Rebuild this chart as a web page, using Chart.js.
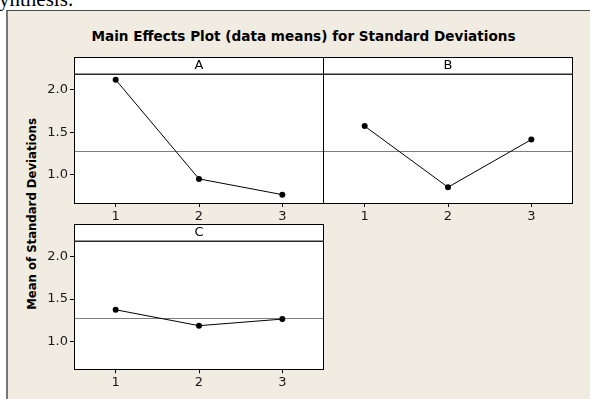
<!DOCTYPE html>
<html>
<head>
<meta charset="utf-8">
<script src="https://cdn.jsdelivr.net/npm/chart.js@4.4.1/dist/chart.umd.min.js"></script>
<style>
  html, body { margin:0; padding:0; background:#fff; }
  body { width:590px; height:399px; position:relative; overflow:hidden; }
  #doctext { position:absolute; left:-1px; top:-13px; font-family:"Liberation Serif","DejaVu Serif",serif; font-size:21px; color:#000; white-space:nowrap; }
  #frame { position:absolute; left:6px; top:10px; width:600px; height:420px; background:#F0ECE2; border-left:2px solid #767676; border-top:1px solid #4a4a4a; }
  #title { position:absolute; left:0; width:607px; top:28px; text-align:center; font-family:"DejaVu Sans",sans-serif; font-weight:bold; font-size:13.6px; color:#000; white-space:nowrap; }
  #ytitle { position:absolute; left:32px; top:214px; transform:translate(-50%,-50%) rotate(-90deg); font-family:"DejaVu Sans",sans-serif; font-weight:bold; font-size:11.7px; color:#000; white-space:nowrap; }
  canvas { position:absolute; }
</style>
</head>
<body>
<div id="doctext">ynthesis:</div>
<div id="frame"></div>
<div id="title">Main Effects Plot (data means) for Standard Deviations</div>
<div id="ytitle">Mean of Standard Deviations</div>
<canvas id="cA" width="330" height="180" style="left:0px;top:50px;width:330px;height:180px"></canvas>
<canvas id="cB" width="272" height="180" style="left:318px;top:50px;width:272px;height:180px"></canvas>
<canvas id="cC" width="330" height="180" style="left:0px;top:216px;width:330px;height:180px"></canvas>
<script>
// ---- data ----
const levels = ['1', '2', '3'];
const factorNames = ['A', 'B', 'C'];
const meansA = [2.118, 0.953, 0.768];
const meansB = [1.573, 0.855, 1.415];
const meansC = [1.373, 1.185, 1.263];
const yTickValues = [1.0, 1.5, 2.0];
const yMin = 0.67, yMax = 2.185;

const allMeans = meansA.concat(meansB, meansC);
const grandMean = allMeans.reduce((a, b) => a + b, 0) / allMeans.length;

Chart.defaults.font.family = '"DejaVu Sans", sans-serif';
Chart.defaults.font.size = 13;
Chart.defaults.color = '#1a1a1a';

const HEADER_H = 17;

const panelPlugin = {
  id: 'panel',
  beforeDraw(chart, args, opts) {
    const { ctx, chartArea: a } = chart;
    ctx.save();
    ctx.fillStyle = '#fff';
    ctx.fillRect(a.left, a.top - HEADER_H, a.right - a.left, a.bottom - a.top + HEADER_H);
    ctx.restore();
  },
  beforeDatasetsDraw(chart, args, opts) {
    const { ctx, chartArea: a } = chart;
    const y = Math.round(chart.scales.y.getPixelForValue(grandMean)) + 0.5;
    ctx.save();
    ctx.strokeStyle = '#7d7d7d';
    ctx.lineWidth = 1.2;
    ctx.beginPath();
    ctx.moveTo(a.left, y);
    ctx.lineTo(a.right, y);
    ctx.stroke();
    ctx.restore();
  },
  afterDatasetsDraw(chart, args, opts) {
    const { ctx, chartArea: a } = chart;
    const top = a.top - HEADER_H;
    ctx.save();
    ctx.strokeStyle = '#000';
    ctx.lineWidth = 1;
    ctx.strokeRect(Math.round(a.left) + 0.5, Math.round(top) + 0.5,
                   Math.round(a.right - a.left) - 1, Math.round(a.bottom - top));
    ctx.strokeStyle = '#2a2a2a';
    ctx.lineWidth = 1.6;
    ctx.beginPath();
    ctx.moveTo(a.left, Math.round(a.top) + 0.2);
    ctx.lineTo(a.right, Math.round(a.top) + 0.2);
    ctx.stroke();
    ctx.fillStyle = '#000';
    ctx.font = '13px "DejaVu Sans", sans-serif';
    ctx.textAlign = 'center';
    ctx.textBaseline = 'middle';
    ctx.fillText(opts.label, (a.left + a.right) / 2, top + HEADER_H / 2 + 0.5);
    ctx.restore();
  }
};

function makePanel(id, values, label, showY, pad, xH) {
  return new Chart(document.getElementById(id), {
    type: 'line',
    data: {
      labels: levels,
      datasets: [{
        data: values,
        borderColor: '#000',
        borderWidth: 1,
        backgroundColor: '#000',
        pointBackgroundColor: '#000',
        pointBorderColor: '#000',
        pointRadius: 3,
        pointBorderWidth: 0,
        tension: 0,
        fill: false
      }]
    },
    options: {
      responsive: false,
      animation: false,
      devicePixelRatio: 1,
      layout: { padding: pad },
      plugins: {
        legend: { display: false },
        tooltip: { enabled: false },
        title: { display: false },
        panel: { label: label }
      },
      scales: {
        x: {
          type: 'category',
          offset: true,
          grid: { display: true, drawOnChartArea: false, drawTicks: true, tickLength: 4, color: '#000', lineWidth: 1, offset: false },
          border: { display: false },
          ticks: { padding: 2, color: '#1a1a1a', font: { size: 13 }, maxRotation: 0 },
          afterFit(s) { s.height = xH; }
        },
        y: {
          type: 'linear',
          display: showY,
          min: yMin,
          max: yMax,
          grid: { display: true, drawOnChartArea: false, drawTicks: true, tickLength: 4, color: '#000', lineWidth: 1 },
          border: { display: false },
          afterBuildTicks(s) { s.ticks = yTickValues.map(v => ({ value: v })); },
          ticks: { padding: 2, color: '#1a1a1a', font: { size: 13 }, callback: v => Number(v).toFixed(1) },
          afterFit(s) { s.width = showY ? 74 : 0; }
        }
      }
    },
    plugins: [panelPlugin]
  });
}

makePanel('cA', meansA, factorNames[0], true, { top: 24, right: 6, left: 0, bottom: 0 }, 27);
makePanel('cB', meansB, factorNames[1], false, { top: 24, right: 17, left: 5, bottom: 0 }, 27);
makePanel('cC', meansC, factorNames[2], true, { top: 25, right: 6, left: 0, bottom: 0 }, 26.7);
</script>
</body>
</html>
